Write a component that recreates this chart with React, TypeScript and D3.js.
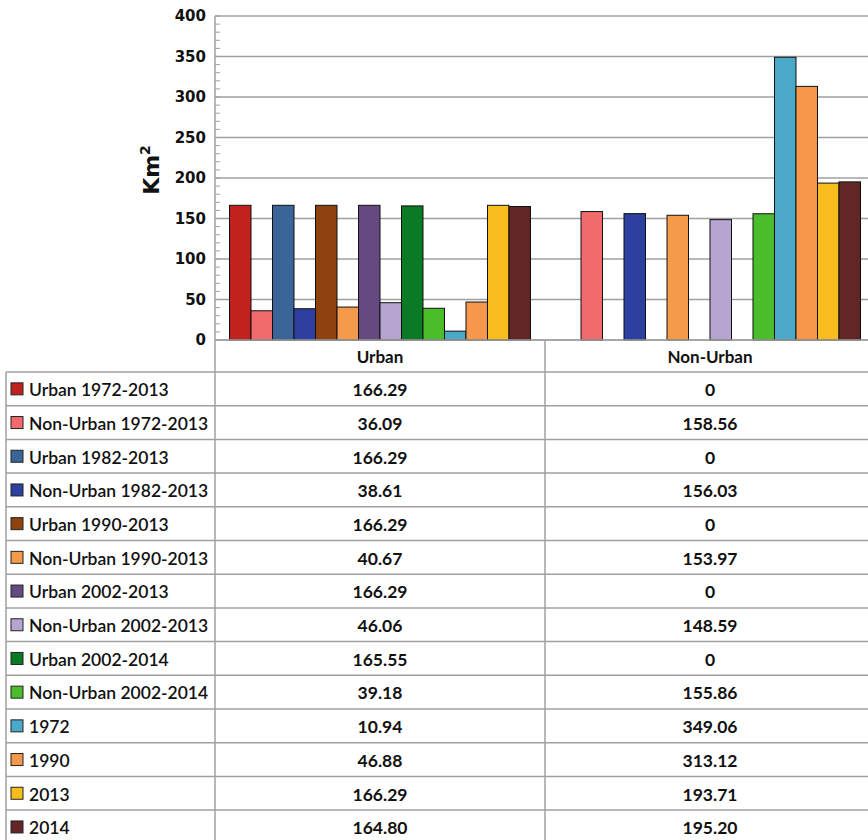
import React from "react";
import * as d3 from "d3";

// Land cover areas (km²) for each change period / year, by class
const categories = ["Urban", "Non-Urban"];
const seriesNames = [
  "Urban 1972-2013",
  "Non-Urban 1972-2013",
  "Urban 1982-2013",
  "Non-Urban 1982-2013",
  "Urban 1990-2013",
  "Non-Urban 1990-2013",
  "Urban 2002-2013",
  "Non-Urban 2002-2013",
  "Urban 2002-2014",
  "Non-Urban 2002-2014",
  "1972",
  "1990",
  "2013",
  "2014",
];
const urbanValues = [166.29, 36.09, 166.29, 38.61, 166.29, 40.67, 166.29, 46.06, 165.55, 39.18, 10.94, 46.88, 166.29, 164.8];
const nonUrbanValues = [0, 158.56, 0, 156.03, 0, 153.97, 0, 148.59, 0, 155.86, 349.06, 313.12, 193.71, 195.2];
const seriesColors = [
  "#C1221D",
  "#F26A6C",
  "#3B6499",
  "#2D40A0",
  "#8E430E",
  "#F59A4B",
  "#644A80",
  "#B6A5D0",
  "#0A7A24",
  "#4BBD2B",
  "#4AA8C8",
  "#F5984B",
  "#F7BD1C",
  "#632627",
];
const yTicks = [0, 50, 100, 150, 200, 250, 300, 350, 400];

const W = 868;
const H = 840;
const plotLeft = 215;
const plotRight = 875;
const plotTop = 16;
const plotBottom = 340;
const tableLeft = 6;
const headerBottom = 372;
const rowH = 33.7;

const valueLabel = (v: number) => (v === 0 ? "0" : v.toFixed(2));

export default function App() {
  const y = d3.scaleLinear().domain([0, 400]).range([plotBottom, plotTop]);
  const x0 = d3.scaleBand<string>().domain(categories).range([plotLeft, plotRight]).paddingInner(0).paddingOuter(0);
  const x1 = d3
    .scaleBand<string>()
    .domain(seriesNames)
    .range([0, x0.bandwidth()])
    .paddingInner(0)
    .paddingOuter(0.675);
  const values = [urbanValues, nonUrbanValues];
  const minorTicks = d3.range(0, 401, 10);
  const grid = "#A0A0A0";
  const tableFont = "Lato, 'Open Sans', sans-serif";

  return (
    <div style={{ position: "absolute", left: 0, top: 0 }}>
      <svg width={W} height={H} style={{ display: "block", background: "#fff" }}>
        {/* gridlines */}
        {yTicks.map((t) => (
          <line key={"g" + t} x1={plotLeft} x2={W} y1={y(t)} y2={y(t)} stroke={grid} strokeWidth={1.5} />
        ))}
        {/* minor ticks */}
        {minorTicks.map((t) => (
          <line key={"m" + t} x1={plotLeft} x2={plotLeft + 5} y1={y(t)} y2={y(t)} stroke={grid} strokeWidth={1} />
        ))}
        {/* tick labels */}
        {yTicks.map((t) => (
          <text
            key={"t" + t}
            x={206}
            y={y(t)}
            dy="0.36em"
            textAnchor="end"
            fontFamily="'DejaVu Sans', Verdana, sans-serif"
            fontWeight="bold"
            fontSize={15}
            fill="#111"
          >
            {t}
          </text>
        ))}
        <text
          transform={`translate(159,170) rotate(-90)`}
          textAnchor="middle"
          fontFamily="'DejaVu Sans', Verdana, sans-serif"
          fontWeight="bold"
          fontSize={22}
          fill="#111"
        >
          Km<tspan fontSize={14} dy={-9}>2</tspan>
        </text>
        {/* bars */}
        {categories.map((c, ci) =>
          seriesNames.map((s, si) => {
            const v = values[ci][si];
            if (v === 0) return null;
            return (
              <rect
                key={c + s}
                x={(x0(c) as number) + (x1(s) as number)}
                y={y(v)}
                width={x1.bandwidth()}
                height={plotBottom - y(v)}
                fill={seriesColors[si]}
                stroke="#111"
                strokeWidth={1}
              />
            );
          })
        )}
        {/* data table */}
        <line x1={plotLeft} x2={plotLeft} y1={plotTop} y2={H} stroke={grid} strokeWidth={1.5} />
        <line x1={x0("Non-Urban") as number} x2={x0("Non-Urban") as number} y1={plotBottom} y2={H} stroke={grid} strokeWidth={1.5} />
        <line x1={tableLeft} x2={tableLeft} y1={headerBottom} y2={H} stroke={grid} strokeWidth={1.5} />
        <line x1={plotLeft} x2={W} y1={plotBottom} y2={plotBottom} stroke={grid} strokeWidth={1.5} />
        {seriesNames.map((s, i) => (
          <line
            key={"r" + s}
            x1={tableLeft}
            x2={W}
            y1={headerBottom + i * rowH}
            y2={headerBottom + i * rowH}
            stroke={grid}
            strokeWidth={1.5}
          />
        ))}
        {categories.map((c) => (
          <text
            key={"h" + c}
            x={(x0(c) as number) + x0.bandwidth() / 2 - (c === "Non-Urban" ? 0 : 0)}
            y={(plotBottom + headerBottom) / 2 + 1}
            dy="0.36em"
            textAnchor="middle"
            fontFamily={tableFont}
            fontWeight={700}
            fontSize={17}
            fill="#111"
          >
            {c}
          </text>
        ))}
        {seriesNames.map((s, i) => {
          const cy = headerBottom + i * rowH + rowH / 2 + 1;
          return (
            <g key={"row" + s}>
              <rect x={11} y={cy - 7} width={12} height={12} fill={seriesColors[i]} stroke="#222" strokeWidth={1} />
              <text x={29} y={cy} dy="0.36em" fontFamily={tableFont} fontWeight={600} fontSize={17.5} fill="#111">
                {s}
              </text>
              {categories.map((c, ci) => (
                <text
                  key={c}
                  x={c === "Urban" ? 380 : 710}
                  y={cy}
                  dy="0.36em"
                  textAnchor="middle"
                  fontFamily={tableFont}
                  fontWeight={700}
                  fontSize={17.5}
                  fill="#111"
                >
                  {valueLabel(values[ci][i])}
                </text>
              ))}
            </g>
          );
        })}
      </svg>
    </div>
  );
}
